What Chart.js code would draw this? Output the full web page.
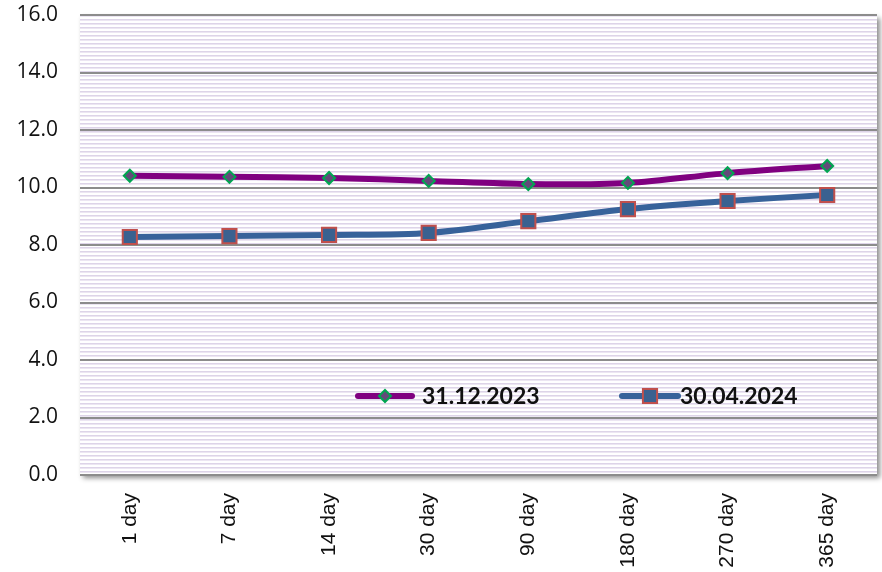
<!DOCTYPE html>
<html>
<head>
<meta charset="utf-8">
<script src="https://cdn.jsdelivr.net/npm/chart.js@4/dist/chart.umd.min.js"></script>
<style>
  html, body { margin: 0; padding: 0; background: #ffffff; }
  #wrap { width: 882px; height: 572px; position: relative; }
</style>
</head>
<body>
<div id="wrap"><canvas id="chart" width="882" height="572"></canvas></div>
<script>
// Tenors and yields
const categories = ['1 day', '7 day', '14 day', '30 day', '90 day', '180 day', '270 day', '365 day'];
const seriesNames = ['31.12.2023', '30.04.2024'];
const yields2023 = [10.41, 10.37, 10.33, 10.23, 10.12, 10.16, 10.50, 10.75];
const yields2024 = [8.28, 8.31, 8.35, 8.42, 8.83, 9.25, 9.53, 9.74];
const yTicks = [0, 2, 4, 6, 8, 10, 12, 14, 16];

const PURPLE = '#800080';
const BLUE = '#37629a';

// Thin horizontal stripes used as plot background
function stripePattern(ctx) {
  const c = document.createElement('canvas');
  c.width = 4; c.height = 4;
  const p = c.getContext('2d');
  p.fillStyle = '#ffffff'; p.fillRect(0, 0, 4, 4);
  p.fillStyle = '#ddd4e8'; p.fillRect(0, 0, 4, 1);
  p.fillStyle = '#ece6f2'; p.fillRect(0, 1, 4, 1);
  return ctx.createPattern(c, 'repeat');
}

const plotBackground = {
  id: 'plotBackground',
  beforeDraw(chart) {
    const { ctx, chartArea: a } = chart;
    ctx.save();
    // drop shadow to the right and below the plot
    ctx.shadowColor = 'rgba(0,0,0,0.45)';
    ctx.shadowBlur = 5;
    ctx.shadowOffsetX = 3;
    ctx.shadowOffsetY = 3;
    ctx.fillStyle = '#ffffff';
    ctx.fillRect(a.left, a.top, a.right - a.left, a.bottom - a.top);
    ctx.restore();
    ctx.save();
    ctx.translate(a.left, a.top);
    ctx.fillStyle = stripePattern(ctx);
    ctx.fillRect(0, 0, a.right - a.left, a.bottom - a.top);
    ctx.restore();
  }
};

// Legend drawn inside the plot: line sample with the marker, then bold label
const inlineLegend = {
  id: 'inlineLegend',
  afterDatasetsDraw(chart) {
    const { ctx } = chart;
    const items = [
      { ds: chart.data.datasets[0], x0: 358, x1: 412, tx: 422 },
      { ds: chart.data.datasets[1], x0: 622, x1: 678, tx: 680 }
    ];
    const y = 396;
    ctx.save();
    items.forEach(it => {
      ctx.strokeStyle = it.ds.borderColor;
      ctx.lineWidth = 6;
      ctx.lineCap = 'round';
      ctx.beginPath();
      ctx.moveTo(it.x0, y);
      ctx.lineTo(it.x1, y);
      ctx.stroke();
      ctx.fillStyle = it.ds.pointBackgroundColor;
      ctx.strokeStyle = it.ds.pointBorderColor;
      ctx.lineWidth = it.ds.pointBorderWidth;
      Chart.helpers.drawPoint(ctx, {
        pointStyle: it.ds.pointStyle,
        radius: it.ds.pointRadius,
        rotation: 0,
        borderWidth: it.ds.pointBorderWidth
      }, (it.x0 + it.x1) / 2, y);
      ctx.fillStyle = '#111111';
      ctx.font = 'bold 23px Lato';
      ctx.textBaseline = 'middle';
      ctx.textAlign = 'left';
      ctx.fillText(it.ds.label, it.tx, y + 1);
    });
    ctx.restore();
  }
};

const ctx = document.getElementById('chart').getContext('2d');
new Chart(ctx, {
  type: 'line',
  data: {
    labels: categories,
    datasets: [
      {
        label: seriesNames[0],
        data: yields2023,
        borderColor: PURPLE,
        borderWidth: 6,
        tension: 0.3,
        pointStyle: 'rectRot',
        pointRadius: 6,
        pointHoverRadius: 6,
        pointBackgroundColor: '#634a7a',
        pointBorderColor: '#00a651',
        pointBorderWidth: 2
      },
      {
        label: seriesNames[1],
        data: yields2024,
        borderColor: BLUE,
        borderWidth: 6,
        tension: 0.3,
        pointStyle: 'rect',
        pointRadius: 10,
        pointHoverRadius: 10,
        pointBackgroundColor: '#3a6190',
        pointBorderColor: '#c0504d',
        pointBorderWidth: 2
      }
    ]
  },
  options: {
    responsive: false,
    animation: false,
    events: [],
    layout: { autoPadding: false, padding: { top: 15, right: 5, left: 0, bottom: 0 } },
    plugins: {
      legend: { display: false },
      tooltip: { enabled: false }
    },
    scales: {
      x: {
        offset: true,
        grid: { display: false },
        border: { display: false },
        ticks: {
          color: '#111111',
          font: { family: 'Liberation Sans', size: 21 },
          maxRotation: 90,
          minRotation: 90,
          padding: 10
        },
        afterFit(scale) {
          scale.height = 97;
          scale.paddingLeft = 0;
          scale.paddingRight = 0;
        }
      },
      y: {
        min: 0,
        max: 16,
        afterBuildTicks(scale) { scale.ticks = yTicks.map(v => ({ value: v })); },
        grid: { color: '#8c8c8c', lineWidth: 2, drawTicks: false },
        border: { display: false },
        ticks: {
          color: '#111111',
          font: { family: 'Open Sans', size: 21 },
          padding: 22,
          callback: v => Number(v).toFixed(1)
        },
        afterFit(scale) {
          scale.width = 80;
          scale.paddingTop = 0;
          scale.paddingBottom = 0;
        }
      }
    }
  },
  plugins: [plotBackground, inlineLegend]
});
</script>
</body>
</html>
